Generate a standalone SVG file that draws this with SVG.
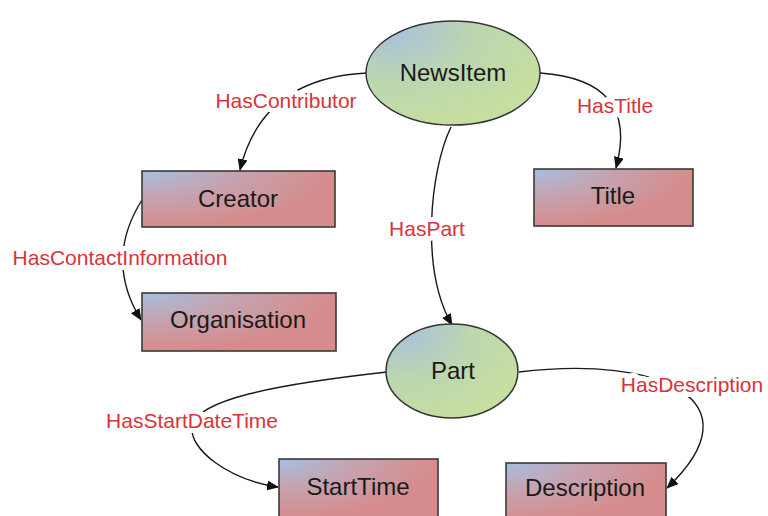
<svg xmlns="http://www.w3.org/2000/svg" width="768" height="516" viewBox="0 0 768 516">
  <defs>
    <radialGradient id="boxFill" cx="0" cy="0" r="1" fx="0" fy="0">
      <stop offset="0" stop-color="#a6bee0"/>
      <stop offset="0.45" stop-color="#c4a4b2"/>
      <stop offset="1" stop-color="#d68c8c"/>
    </radialGradient>
    <radialGradient id="ovalFill" cx="0.15" cy="0.1" r="0.95" fx="0.15" fy="0.1">
      <stop offset="0" stop-color="#a8c2dc"/>
      <stop offset="0.5" stop-color="#bcd6b0"/>
      <stop offset="1" stop-color="#c6dea0"/>
    </radialGradient>
    <marker id="arrow" markerWidth="12" markerHeight="10" refX="11" refY="5" orient="auto" markerUnits="userSpaceOnUse">
      <path d="M0,0 L12,5 L0,10 Z" fill="#111"/>
    </marker>
  </defs>
  <style>
    .box { fill: url(#boxFill); stroke: #3a3a3a; stroke-width: 1.6; }
    .oval { fill: url(#ovalFill); stroke: #333; stroke-width: 1.5; }
    .name { font-family: "Liberation Sans", Arial, sans-serif; font-size: 24px; fill: #1a1a1a; text-anchor: middle; }
    .edge { fill: none; stroke: #1a1a1a; stroke-width: 1.4; marker-end: url(#arrow); }
    .rel { font-family: "Liberation Sans", Arial, sans-serif; font-size: 21px; fill: #d8343a; text-anchor: middle; stroke: #fff; stroke-width: 10; stroke-linejoin: round; paint-order: stroke; }
  </style>
  <rect width="768" height="516" fill="#fff"/>

  <!-- relations -->
  <g id="connectors">
    <path class="edge" d="M367,73 Q262,78 240,170"/>
    <path class="edge" d="M540,73 Q640,80 616,168"/>
    <path class="edge" d="M451,127 C430,170 420,270 452,325"/>
    <path class="edge" d="M142,200 Q104,260 141,320"/>
    <path class="edge" d="M387,372 C270,385 200,400 192,425 C188,450 230,480 278,487"/>
    <path class="edge" d="M519,372 C660,355 760,400 667,488"/>
    <text class="rel" x="286" y="108">HasContributor</text>
    <text class="rel" x="615" y="113">HasTitle</text>
    <text class="rel" x="427" y="236">HasPart</text>
    <text class="rel" x="120" y="265">HasContactInformation</text>
    <text class="rel" x="192" y="428">HasStartDateTime</text>
    <text class="rel" x="692" y="392">HasDescription</text>
  </g>

  <g id="newsitem">
    <ellipse class="oval" cx="453" cy="73" rx="87" ry="52"/>
    <text class="name" x="453" y="81">NewsItem</text>
  </g>
  <g id="creator">
    <rect class="box" x="142" y="171" width="193" height="56"/>
    <text class="name" x="238" y="207">Creator</text>
  </g>
  <g id="title">
    <rect class="box" x="534" y="169" width="159" height="57"/>
    <text class="name" x="613" y="204">Title</text>
  </g>
  <g id="organisation">
    <rect class="box" x="142" y="293" width="194" height="58"/>
    <text class="name" x="238" y="328">Organisation</text>
  </g>
  <g id="part">
    <ellipse class="oval" cx="452" cy="371" rx="66" ry="47"/>
    <text class="name" x="453" y="379">Part</text>
  </g>
  <g id="starttime">
    <rect class="box" x="279" y="459" width="159" height="60"/>
    <text class="name" x="358" y="495">StartTime</text>
  </g>
  <g id="description">
    <rect class="box" x="506" y="463" width="160" height="60"/>
    <text class="name" x="585" y="496">Description</text>
  </g>
</svg>
